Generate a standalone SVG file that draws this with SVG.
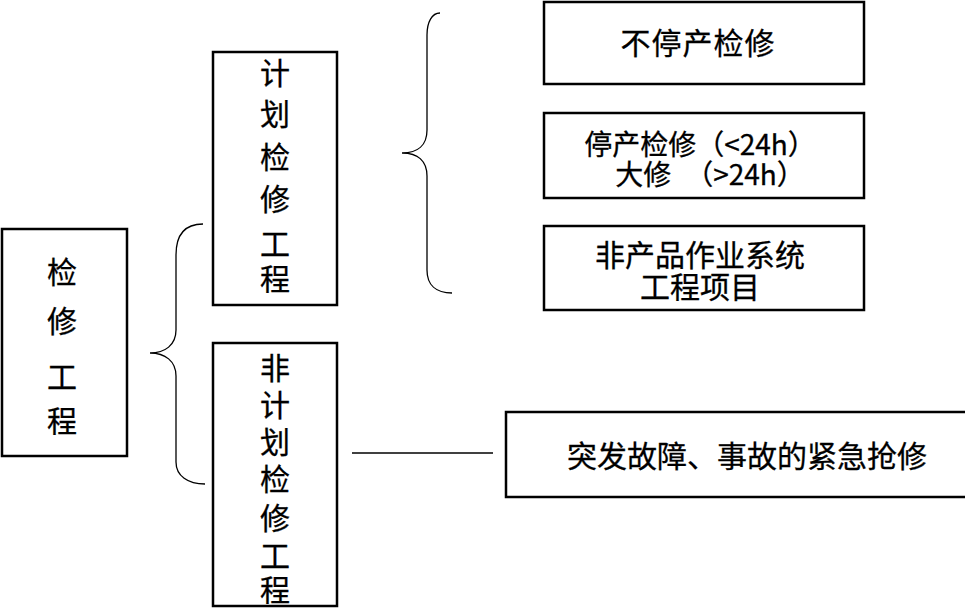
<svg xmlns="http://www.w3.org/2000/svg" width="965" height="608" viewBox="0 0 965 608">
<style>
.box{fill:#fff;stroke:#000;stroke-width:2.5}
.t{font-family:"Noto Sans CJK SC","Liberation Sans",sans-serif;font-size:30px;fill:#000;text-anchor:middle;stroke:#000;stroke-width:0.3}
.s{font-size:28px}
.c{fill:none;stroke:#000;stroke-width:1.3}
</style>
<rect width="965" height="608" fill="#fff"/>
<g id="connectors">
<path class="c" d="M203,224 C185,224 176,235 176,255 L176,330 C176,345 165,353 150,353 C165,353 176,361 176,376 L176,462 C176,476 188,484 205,484"/>
<path class="c" d="M440,13 C432,13 427,22 427,35 L427,130 C427,145 418,153 402,153 C418,153 427,161 427,176 L427,270 C427,285 436,293 452,293"/>
<line class="c" x1="352" y1="453" x2="493" y2="453"/>
</g>
<g id="n-root">
<rect class="box" x="2" y="229" width="125" height="227"/>
<text class="t" x="62" y="283">检</text>
<text class="t" x="62" y="332">修</text>
<text class="t" x="62" y="388">工</text>
<text class="t" x="62" y="432">程</text>
</g>
<g id="n-planned">
<rect class="box" x="213" y="52" width="124" height="253"/>
<text class="t" x="275" y="84">计</text>
<text class="t" x="275" y="125">划</text>
<text class="t" x="275" y="168">检</text>
<text class="t" x="275" y="210">修</text>
<text class="t" x="275" y="255">工</text>
<text class="t" x="275" y="290">程</text>
</g>
<g id="n-unplanned">
<rect class="box" x="213" y="343" width="124" height="263"/>
<text class="t" x="275" y="379">非</text>
<text class="t" x="275" y="416">计</text>
<text class="t" x="275" y="453">划</text>
<text class="t" x="275" y="490">检</text>
<text class="t" x="275" y="529">修</text>
<text class="t" x="275" y="567">工</text>
<text class="t" x="275" y="601">程</text>
</g>
<g id="n-nonstop">
<rect class="box" x="544" y="2" width="320" height="82"/>
<text class="t" x="698" y="54" letter-spacing="1">不停产检修</text>
</g>
<g id="n-stop">
<rect class="box" x="544" y="113" width="320" height="85"/>
<text class="t s" x="700" y="155">停产检修（&lt;24h）</text>
<text class="t s" x="710" y="185">大修　（&gt;24h）</text>
</g>
<g id="n-nonprod">
<rect class="box" x="544" y="226" width="320" height="84"/>
<text class="t" x="700" y="266">非产品作业系统</text>
<text class="t" x="700" y="298">工程项目</text>
</g>
<g id="n-emergency">
<rect class="box" x="506" y="412" width="475" height="85"/>
<text class="t" x="747" y="467" font-size="32">突发故障、事故的紧急抢修</text>
</g>
</svg>
